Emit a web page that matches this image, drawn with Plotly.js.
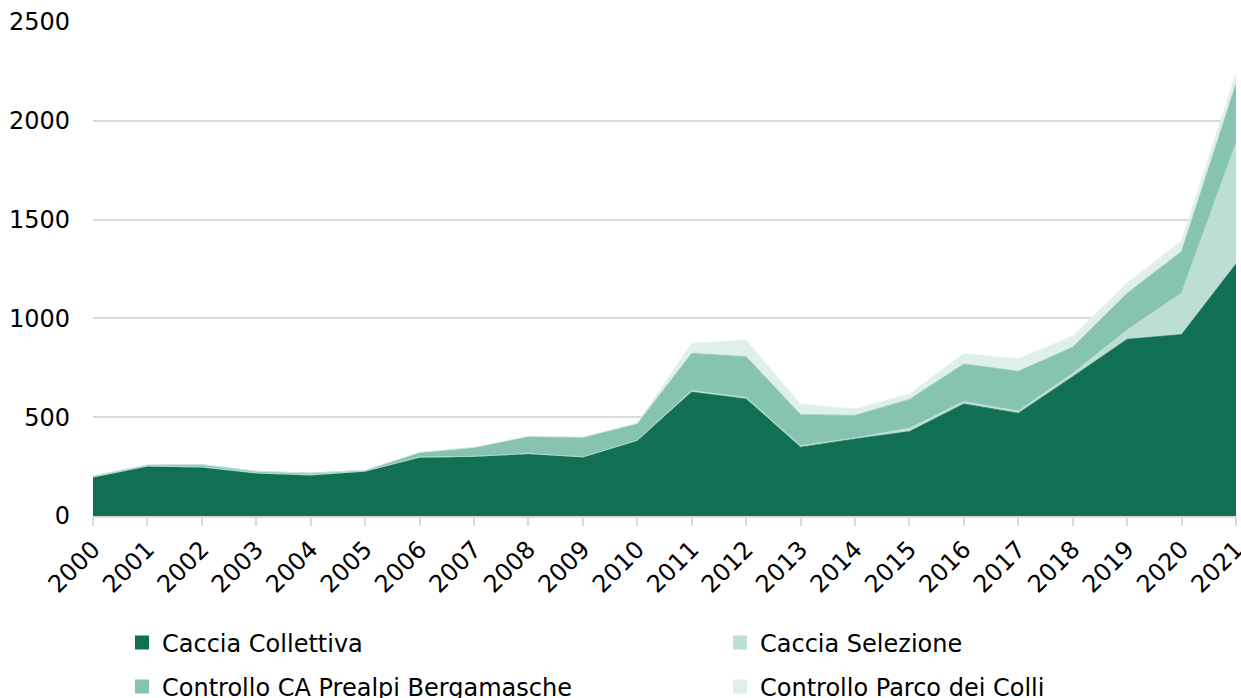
<!DOCTYPE html>
<html>
<head>
<meta charset="utf-8">
<script src="https://cdn.plot.ly/plotly-3.0.1.min.js"></script>
<style>
  html, body { margin: 0; padding: 0; background: #ffffff; }
  #chart { width: 1241px; height: 698px; }
</style>
</head>
<body>
<div id="chart"></div>
<script>
// Capi abbattuti per anno, suddivisi per modalità di prelievo
const years = [2000, 2001, 2002, 2003, 2004, 2005, 2006, 2007, 2008, 2009, 2010,
               2011, 2012, 2013, 2014, 2015, 2016, 2017, 2018, 2019, 2020, 2021];

const cacciaCollettiva = [195, 250, 245, 215, 205, 225, 295, 300, 314, 297, 381,
                          627, 592, 348, 390, 427, 567, 520, 705, 894, 918, 1275];
const cacciaSelezione  = [2, 3, 3, 3, 3, 2, 3, 2, 2, 2, 2,
                          8, 8, 8, 5, 17, 12, 11, 17, 47, 210, 611];
const controlloPrealpi = [5, 5, 12, 8, 9, 4, 22, 44, 85, 97, 83,
                          188, 206, 157, 114, 146, 190, 201, 132, 186, 210, 299];
const controlloParco   = [0, 0, 0, 0, 0, 0, 2, 2, 3, 4, 4,
                          51, 83, 52, 32, 27, 52, 63, 57, 51, 54, 55];

const seriesNames = ["Caccia Collettiva", "Caccia Selezione",
                     "Controllo CA Prealpi Bergamasche", "Controllo Parco dei Colli"];
const seriesValues = [cacciaCollettiva, cacciaSelezione, controlloPrealpi, controlloParco];
const seriesColors = ["#106f54", "#bddfd3", "#86c4af", "#dff0ea"];
const legendIds = ["legend", "legend2", "legend3", "legend4"];

const font = "DejaVu Sans, Verdana, sans-serif";

const traces = [];
// stacked areas
seriesValues.forEach((vals, i) => {
  traces.push({
    type: "scatter",
    mode: "lines",
    x: years,
    y: vals,
    name: seriesNames[i],
    stackgroup: "one",
    fillcolor: seriesColors[i],
    line: { color: seriesColors[i], width: 0.8 },
    showlegend: false,
    hoverinfo: "x+y+name"
  });
});
// square legend keys, one legend per entry
seriesNames.forEach((name, i) => {
  traces.push({
    type: "scatter",
    mode: "markers",
    x: [null],
    y: [null],
    name: name,
    legend: legendIds[i],
    marker: { symbol: "square", size: 14, color: seriesColors[i] },
    showlegend: true,
    hoverinfo: "skip"
  });
});

const W = 1241, H = 698;
// legend rows placed in figure (container) coordinates
function legendAt(xPix, yPix) {
  return {
    x: xPix / W, y: (H - yPix) / H,
    xanchor: "left", yanchor: "middle",
    xref: "container", yref: "container",
    orientation: "h",
    bgcolor: "rgba(0,0,0,0)",
    borderwidth: 0,
    font: { family: font, size: 24, color: "#000000" },
    itemclick: false, itemdoubleclick: false
  };
}

const layout = {
  width: W,
  height: H,
  margin: { l: 93, r: 5, t: 22, b: 182, autoexpand: false },
  paper_bgcolor: "#ffffff",
  plot_bgcolor: "#ffffff",
  font: { family: font, size: 24, color: "#000000" },
  xaxis: {
    range: [1999.9999, 2021.0001],
    tickmode: "array",
    tickvals: years,
    ticktext: years.map(String),
    tickangle: -45,
    ticklabeloverflow: "allow",
    ticks: "outside",
    ticklen: 8,
    tickwidth: 1.5,
    tickcolor: "#d9d9d9",
    showline: true,
    linecolor: "#d9d9d9",
    linewidth: 1.5,
    showgrid: false,
    zeroline: false,
    automargin: false,
    tickfont: { family: font, size: 24, color: "#000000" },
    fixedrange: true
  },
  yaxis: {
    range: [0, 2500],
    tick0: 0,
    dtick: 500,
    showgrid: true,
    gridcolor: "#d9d9d9",
    gridwidth: 1.5,
    zeroline: false,
    showline: false,
    ticks: "",
    ticklabelstandoff: 22,
    automargin: false,
    tickfont: { family: font, size: 24, color: "#000000" },
    fixedrange: true
  },
  legend: legendAt(122, 643),
  legend2: legendAt(720, 643),
  legend3: legendAt(122, 687),
  legend4: legendAt(720, 687),
  hovermode: "closest"
};

Plotly.newPlot("chart", traces, layout, { displayModeBar: false });
</script>
</body>
</html>
